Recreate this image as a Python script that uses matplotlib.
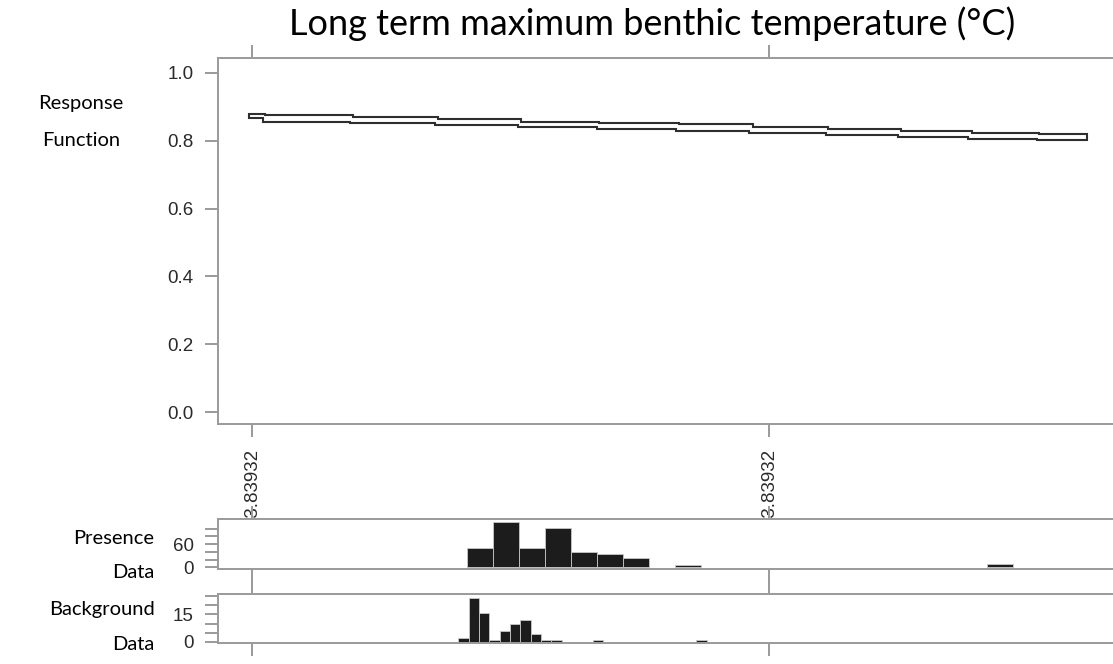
import numpy as np
import matplotlib
matplotlib.use("Agg")
import matplotlib.pyplot as plt

# ---- data -------------------------------------------------------------
title = "Long term maximum benthic temperature (°C)"
x_ticks = [0.0, 1.0]
x_tick_labels = ["13.83932", "13.83932"]

# response band: upper and lower step curves (edges in axis units)
upper_edges = [-0.006, 0.025, 0.195, 0.360, 0.520, 0.671, 0.826, 0.969,
               1.114, 1.255, 1.393, 1.522, 1.615]
upper_vals = [0.879, 0.876, 0.869, 0.863, 0.856, 0.852, 0.849, 0.842,
              0.836, 0.830, 0.824, 0.819]
lower_edges = [-0.006, 0.021, 0.190, 0.354, 0.515, 0.667, 0.820, 0.961,
               1.110, 1.250, 1.385, 1.518, 1.615]
lower_vals = [0.868, 0.856, 0.852, 0.846, 0.840, 0.835, 0.830, 0.824,
              0.818, 0.812, 0.806, 0.802]

# histograms
presence_start = 0.416
presence_width = 0.0503
presence_counts = [50, 116, 50, 101, 39, 35, 25, 0, 6, 0, 0, 0, 0, 0, 0, 0,
                   0, 0, 0, 0, 9]
background_start = 0.399
background_width = 0.0200
background_counts = [2, 24, 16, 1, 6, 10, 12, 4, 1, 1, 0, 0, 0, 1, 0, 0, 0,
                     0, 0, 0, 0, 0, 0, 1]

# ---- style ------------------------------------------------------------
W, H = 1113, 664
fig = plt.figure(figsize=(W / 100, H / 100), dpi=100)
spine_col = "#9a9a9a"
lab_col = "#2a2a2a"
tick_family = "Liberation Sans"
tick_size = 13.5
label_font = ["Lato", "DejaVu Sans"]
xlim = (-0.0658, 1.665)


def box(x0, y0, x1, y1):
    return [x0 / W, 1 - y1 / H, (x1 - x0) / W, (y1 - y0) / H]


def style(ax):
    for s in ("left", "top", "bottom"):
        ax.spines[s].set_color(spine_col)
        ax.spines[s].set_linewidth(1.4)
    ax.spines["right"].set_visible(False)
    ax.tick_params(axis="both", direction="out", length=9.5, width=1.4,
                   color=spine_col, labelcolor=lab_col, pad=8.0,
                   labelsize=tick_size)
    ax.tick_params(axis="x", top=True)
    ax.set_xlim(*xlim)
    for t in ax.get_yticklabels() + ax.get_xticklabels():
        t.set_family(tick_family)


# main response panel
ax = fig.add_axes(box(218, 58, 1113, 424))
ue = np.asarray(upper_edges)
le = np.asarray(lower_edges)
ux = np.repeat(ue, 2)[1:-1]
uy = np.repeat(upper_vals, 2)
lx = np.repeat(le, 2)[1:-1][::-1]
ly = np.repeat(lower_vals, 2)[::-1]
ax.fill(np.concatenate([ux, lx]), np.concatenate([uy, ly]),
        facecolor="white", edgecolor="#2e2e2e", linewidth=1.5,
        joinstyle="miter")
ax.set_ylim(-0.035, 1.044)
ax.set_yticks([0.0, 0.2, 0.4, 0.6, 0.8, 1.0])
ax.set_yticklabels(["0.0", "0.2", "0.4", "0.6", "0.8", "1.0"])
ax.set_xticks(x_ticks)
ax.set_xticklabels(x_tick_labels, rotation=90, va="top")
style(ax)

bar_kw = dict(align="edge", color="#1c1c1c", edgecolor="#c8c8c8",
              linewidth=0.6)

# presence histogram
axp = fig.add_axes(box(218, 519, 1113, 569))
px = presence_start + presence_width * np.arange(len(presence_counts))
pc = np.asarray(presence_counts)
axp.bar(px[pc > 0], pc[pc > 0], width=presence_width, **bar_kw)
axp.set_ylim(-4, 125)
axp.set_yticks([0, 20, 40, 60, 80, 100])
axp.set_yticklabels(["0", "", "", "60", "", ""])
axp.set_xticks(x_ticks)
axp.set_xticklabels([])
style(axp)

# background histogram
axb = fig.add_axes(box(218, 594, 1113, 643))
bx = background_start + background_width * np.arange(len(background_counts))
bc = np.asarray(background_counts)
axb.bar(bx[bc > 0], bc[bc > 0], width=background_width, **bar_kw)
axb.set_ylim(-0.7, 26.2)
axb.set_yticks([0, 5, 10, 15, 20, 25])
axb.set_yticklabels(["0", "", "", "15", "", ""])
axb.set_xticks(x_ticks)
axb.set_xticklabels([])
style(axb)

# titles and row labels
fig.text(652 / W, 1 - 24 / H, title, ha="center", va="center",
         family=label_font, fontsize=26)
row_kw = dict(family=label_font, fontsize=14.5, va="center")
fig.text(81 / W, 1 - 103 / H, "Response", ha="center", **row_kw)
fig.text(81 / W, 1 - 140 / H, "Function", ha="center", **row_kw)
fig.text(154 / W, 1 - 538 / H, "Presence", ha="right", **row_kw)
fig.text(154 / W, 1 - 572 / H, "Data", ha="right", **row_kw)
fig.text(155 / W, 1 - 610 / H, "Background", ha="right", **row_kw)
fig.text(154 / W, 1 - 645 / H, "Data", ha="right", **row_kw)

fig.savefig("out.png", dpi=100, facecolor="white")
